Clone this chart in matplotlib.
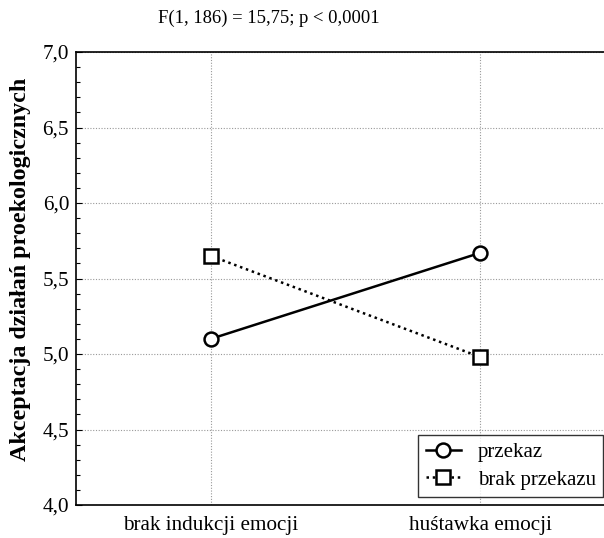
import matplotlib
matplotlib.use("Agg")
import matplotlib.pyplot as plt
from matplotlib.ticker import MultipleLocator, FuncFormatter

categories = ["brak indukcji emocji", "huśtawka emocji"]
przekaz = [5.10, 5.67]
brak_przekazu = [5.65, 4.98]
title = "F(1, 186) = 15,75; p < 0,0001"
ylabel = "Akceptacja działań proekologicznych"

plt.rcParams['font.family'] = ['Liberation Serif', 'DejaVu Serif']

fig = plt.figure(figsize=(6.04, 5.38), dpi=100)
# right edge of the axes lies just past the figure edge, as in the original
ax = fig.add_axes([76 / 604, 1 - 505 / 538, (615 - 76) / 604, (505 - 52) / 538])

x = list(range(len(categories)))
ax.plot(x, przekaz, color="black", lw=1.8, marker="o", ms=10,
        mfc="white", mec="black", mew=1.8, label="przekaz")
ax.plot(x, brak_przekazu, color="black", lw=1.8, ls=(0, (1, 1.5)), marker="s", ms=9.5,
        mfc="white", mec="black", mew=1.8, label="brak przekazu")

ax.set_xlim(-0.5, 1.5)
ax.set_ylim(4.0, 7.0)
ax.set_xticks(x)
ax.set_xticklabels(categories, fontsize=15.2)
ax.yaxis.set_major_locator(MultipleLocator(0.5))
ax.yaxis.set_minor_locator(MultipleLocator(0.1))
ax.yaxis.set_major_formatter(FuncFormatter(lambda v, p: ("%.1f" % v).replace(".", ",")))
ax.tick_params(axis="y", labelsize=15.2, direction="in", length=4, width=0.8, pad=5)
ax.tick_params(axis="y", which="minor", direction="in", length=3, width=0.8)
ax.tick_params(axis="x", length=0, pad=8)
ax.grid(True, color="#999999", ls=(0, (1, 1.5)), lw=0.8)
ax.set_axisbelow(True)

for s in ax.spines.values():
    s.set_linewidth(1.2)

ax.set_ylabel(ylabel, fontsize=17.3, fontweight="bold", labelpad=8)
ax.yaxis.label.set_y(0.52)
fig.text(269 / 604, 1 - 18 / 538, title, ha="center", va="center", fontsize=13.4)

leg = ax.legend(loc="lower right", bbox_to_anchor=(603 / 604, 1 - 497 / 538),
                bbox_transform=fig.transFigure,
                fontsize=15, frameon=True, fancybox=False, edgecolor="black",
                handlelength=1.7, borderpad=0.35, labelspacing=0.4,
                handletextpad=0.8, borderaxespad=0)
leg.get_frame().set_linewidth(1.0)

fig.savefig("out.png", dpi=100)
